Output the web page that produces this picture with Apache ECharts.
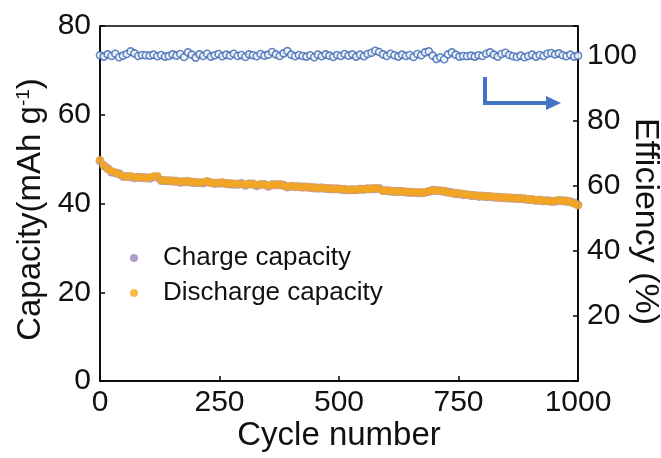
<!DOCTYPE html>
<html>
<head>
<meta charset="utf-8">
<script src="https://cdn.jsdelivr.net/npm/echarts@6/dist/echarts.min.js"></script>
<style>
  html, body { margin: 0; padding: 0; background: #fff; }
  #chart { width: 661px; height: 458px; }
</style>
</head>
<body>
<div id="chart"></div>
<script>
// one point every 8 cycles, 0 .. 1000
const cycleStep = 8;

const chargeCapacity = [
  49.6, 48.5, 47.9, 47.1, 46.9, 46.7, 46.1, 46.1, 46.0, 45.8,
  45.9, 45.8, 45.8, 45.7, 46.0, 46.0, 45.2, 45.1, 45.1, 45.0,
  45.0, 44.8, 44.9, 44.9, 44.8, 44.7, 44.7, 44.6, 44.9, 44.7,
  44.5, 44.6, 44.6, 44.5, 44.4, 44.4, 44.3, 44.5, 44.1, 44.4,
  44.4, 44.0, 44.3, 44.3, 43.9, 44.2, 44.2, 44.2, 44.1, 43.7,
  43.9, 43.8, 43.8, 43.7, 43.7, 43.6, 43.5, 43.5, 43.5, 43.4,
  43.3, 43.3, 43.3, 43.2, 43.1, 43.1, 43.1, 43.1, 43.2, 43.2,
  43.3, 43.3, 43.3, 43.4, 42.9, 42.9, 42.8, 42.7, 42.7, 42.7,
  42.6, 42.5, 42.5, 42.4, 42.4, 42.5, 42.7, 43.0, 42.9, 42.9,
  42.7, 42.6, 42.4, 42.2, 42.2, 42.0, 42.0, 41.8, 41.8, 41.6,
  41.7, 41.5, 41.6, 41.4, 41.4, 41.3, 41.3, 41.2, 41.2, 41.1,
  41.1, 41.0, 40.9, 40.9, 40.7, 40.7, 40.6, 40.6, 40.5, 40.5,
  40.7, 40.6, 40.5, 40.4, 40.1, 39.7
];

const dischargeCapacity = [
  49.8, 48.6, 47.8, 47.3, 47.0, 46.6, 46.3, 46.0, 46.2, 45.9,
  45.8, 46.0, 45.7, 45.9, 46.1, 46.2, 45.1, 45.3, 45.0, 45.2,
  44.9, 45.0, 44.8, 45.1, 44.7, 44.9, 44.6, 44.8, 45.0, 44.6,
  44.7, 44.5, 44.8, 44.4, 44.6, 44.3, 44.5, 44.4, 44.2, 44.5,
  44.3, 44.1, 44.4, 44.2, 44.0, 44.3, 44.1, 44.4, 44.0, 43.8,
  44.0, 43.7, 43.9, 43.6, 43.8, 43.5, 43.7, 43.4, 43.6, 43.3,
  43.5, 43.2, 43.4, 43.1, 43.3, 43.0, 43.2, 43.0, 43.3, 43.1,
  43.4, 43.2, 43.5, 43.3, 42.8, 43.0, 42.7, 42.9, 42.6, 42.8,
  42.5, 42.7, 42.4, 42.6, 42.3, 42.6, 42.8, 42.9, 43.0, 42.8,
  42.9, 42.5, 42.3, 42.4, 42.1, 42.2, 41.9, 42.0, 41.7, 41.8,
  41.6, 41.7, 41.5, 41.6, 41.3, 41.5, 41.2, 41.4, 41.1, 41.3,
  41.0, 41.2, 40.8, 41.0, 40.6, 40.9, 40.5, 40.7, 40.4, 40.6,
  40.8, 40.5, 40.7, 40.3, 40.0, 39.6
];

const efficiency = [
  100.0, 99.6, 100.3, 99.8, 100.5, 99.4, 99.9, 100.4, 101.2, 100.6,
  99.8, 100.1, 100.0, 99.9, 100.2, 99.7, 100.1, 99.6, 99.8, 100.3,
  99.9, 100.4, 99.5, 100.9, 100.2, 99.3, 100.3, 99.8, 100.5, 99.6,
  100.0, 100.4, 99.7, 100.2, 99.9, 100.5, 99.8, 100.1, 99.5, 100.3,
  100.0, 99.7, 100.4, 99.9, 100.2, 101.0, 100.3, 99.8, 100.6, 101.3,
  100.2, 99.7, 100.1, 99.8, 99.6, 100.0, 99.4, 100.2, 99.7, 100.3,
  99.9, 99.5, 100.1, 99.8, 100.4, 99.9, 100.3, 99.6, 100.2, 99.7,
  100.4, 100.8, 101.4, 101.0, 100.3, 99.8, 100.5, 100.0, 99.6, 100.2,
  99.8, 100.1, 99.5, 100.4, 100.0, 100.9, 101.2, 99.9, 98.9, 99.4,
  98.8, 100.3, 100.9, 100.2, 99.6, 99.8, 99.7, 99.9, 99.6, 100.0,
  99.8, 100.5, 100.9, 100.2, 99.6, 100.4, 100.8, 100.1, 99.7, 99.5,
  99.9, 99.4, 99.8, 100.2, 99.6, 100.1, 99.8, 100.5, 100.7, 100.3,
  100.6, 100.0, 99.7, 100.2, 99.6, 99.9
];

const cycleTicks = [0, 250, 500, 750, 1000];
const capacityTicks = [0, 20, 40, 60, 80];
const efficiencyTicks = [20, 40, 60, 80, 100];

function pairs(values) {
  return values.map((v, i) => [i * cycleStep, v]);
}

const font = "'Liberation Sans', Arial, sans-serif";
const chart = echarts.init(document.getElementById("chart"), null, { renderer: "canvas" });

const option = {
  animation: false,
  backgroundColor: "#fff",
  textStyle: { fontFamily: font, color: "#000" },
  grid: {
    left: 100,
    right: 83,
    top: 26,
    bottom: 77,
    outerBoundsMode: "none",
    containLabel: false,
    show: true,
    borderColor: "#000",
    borderWidth: 1.5,
  },
  legend: {
    orient: "vertical",
    left: 125,
    top: 240,
    itemGap: 9,
    itemWidth: 8,
    itemHeight: 8,
    textStyle: { fontFamily: font, fontSize: 26, color: "#111", padding: [0, 0, 0, 20] },
    data: [
      { name: "Charge capacity", icon: "circle" },
      { name: "Discharge capacity", icon: "circle" },
    ],
  },
  xAxis: {
    type: "value",
    min: 0,
    max: 1000,
    interval: 250,
    name: "Cycle number",
    nameLocation: "middle",
    nameGap: 38,
    nameMoveOverlap: false,
    nameTextStyle: { fontFamily: font, fontSize: 33, color: "#111" },
    axisLine: { lineStyle: { color: "#000", width: 1.5 } },
    axisTick: { inside: true, length: 5, lineStyle: { color: "#000", width: 1.5 } },
    axisLabel: {
      fontFamily: font,
      fontSize: 30,
      color: "#111",
      margin: 7,
      formatter: (v) => (cycleTicks.includes(v) ? String(v) : ""),
    },
    splitLine: { show: false },
  },
  yAxis: [
    {
      type: "value",
      min: 0,
      max: 80,
      interval: 20,
      name: "Capacity(mAh g{sup|-1})",
      nameLocation: "middle",
      nameGap: 52,
      nameMoveOverlap: false,
      nameTextStyle: {
        fontFamily: font,
        fontSize: 33,
        color: "#111",
        padding: [0, 12, 0, 0],
        rich: { sup: { fontFamily: font, fontSize: 19, color: "#111", padding: [0, 0, 15, 0] } },
      },
      axisLine: { show: true, lineStyle: { color: "#000", width: 1.5 } },
      axisTick: { inside: true, length: 5, lineStyle: { color: "#000", width: 1.5 } },
      axisLabel: {
        fontFamily: font,
        fontSize: 30,
        color: "#111",
        margin: 9,
        formatter: (v) => (capacityTicks.includes(v) ? String(v) : ""),
      },
      splitLine: { show: false },
    },
    {
      type: "value",
      min: 0,
      max: 109,
      interval: 20,
      position: "right",
      name: "Efficiency (%)",
      nameLocation: "middle",
      nameRotate: -90,
      nameGap: 50,
      nameMoveOverlap: false,
      nameTextStyle: { fontFamily: font, fontSize: 34, color: "#111", padding: [0, 0, 0, 36] },
      axisLine: { show: true, lineStyle: { color: "#000", width: 1.5 } },
      axisTick: { inside: true, length: 5, lineStyle: { color: "#000", width: 1.5 } },
      axisLabel: {
        fontFamily: font,
        fontSize: 30,
        color: "#111",
        margin: 9,
        formatter: (v) => (efficiencyTicks.includes(v) ? String(v) : ""),
      },
      splitLine: { show: false },
    },
  ],
  series: [
    {
      name: "Efficiency",
      type: "scatter",
      yAxisIndex: 1,
      symbol: "circle",
      symbolSize: 7,
      itemStyle: { color: "#fff", borderColor: "#3a66b2", borderWidth: 1.6 },
      data: pairs(efficiency),
    },
    {
      name: "Charge capacity",
      type: "scatter",
      symbolSize: 9,
      itemStyle: { color: "#9c84c0" },
      data: pairs(chargeCapacity),
    },
    {
      name: "Discharge capacity",
      type: "scatter",
      symbolSize: 8,
      itemStyle: { color: "#f6a81c" },
      data: pairs(dischargeCapacity),
    },
  ],
  graphic: [
    {
      type: "polyline",
      shape: { points: [[485, 77], [485, 103], [548, 103]] },
      style: { stroke: "#4472c4", lineWidth: 4, fill: null },
    },
    {
      type: "polygon",
      shape: { points: [[546, 96], [561, 103], [546, 110]] },
      style: { fill: "#4472c4" },
    },
  ],
};

chart.setOption(option);
</script>
</body>
</html>
